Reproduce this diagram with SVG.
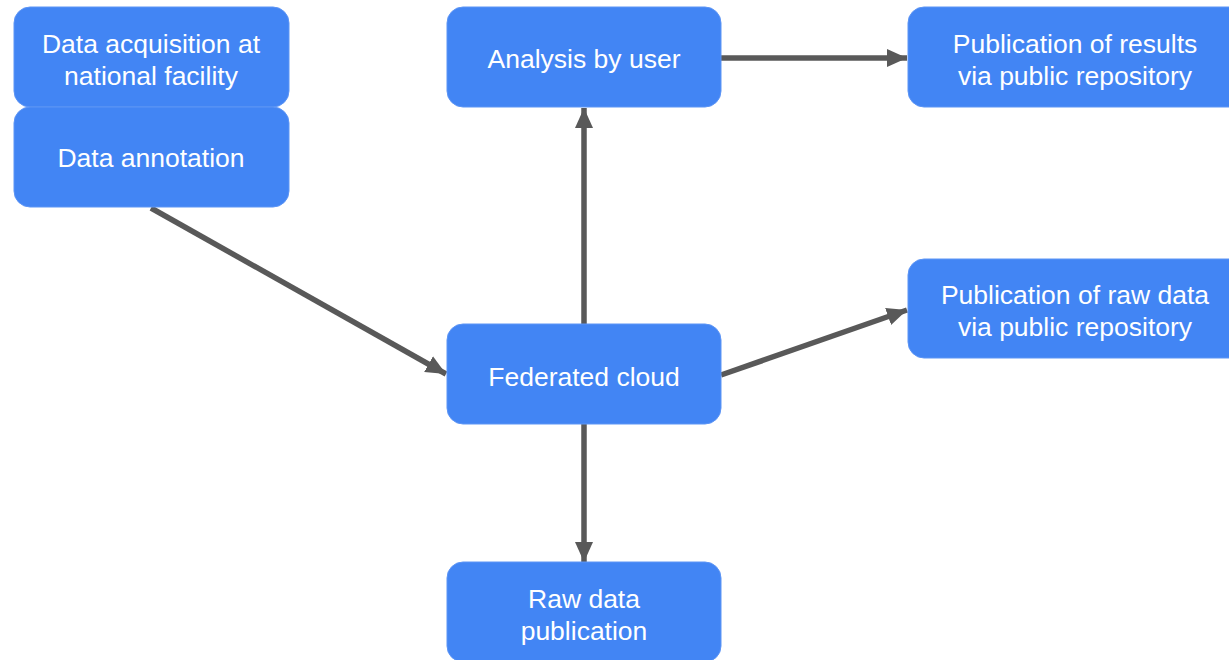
<svg xmlns="http://www.w3.org/2000/svg" width="1229" height="660" viewBox="0 0 1229 660">
<style>
.box{fill:#4285f4;stroke:#5d95f5;stroke-width:1}
.t{font-family:"Liberation Sans",Arial,Helvetica,sans-serif;font-size:26.5px;fill:#ffffff;text-anchor:middle}
.c{stroke:#595959;stroke-width:5.5;fill:none;marker-end:url(#ah)}
</style>
<defs>
<marker id="ah" markerUnits="userSpaceOnUse" markerWidth="22" markerHeight="20" refX="20" refY="10" orient="auto">
<path d="M0,1 L20,10 L0,19 Z" fill="#595959"/>
</marker>
</defs>
<rect width="1229" height="660" fill="#ffffff"/>
<g id="connectors">
<line class="c" x1="151" y1="208" x2="446" y2="374"/>
<line class="c" x1="584" y1="324" x2="584" y2="108"/>
<line class="c" x1="721" y1="58" x2="907" y2="58"/>
<line class="c" x1="721" y1="375" x2="907" y2="310"/>
<line class="c" x1="584" y1="424" x2="584" y2="562"/>
</g>
<g id="acquisition">
<rect class="box" x="14" y="7" width="275" height="100" rx="16"/>
<text class="t" x="151" y="53">Data acquisition at</text>
<text class="t" x="151" y="85">national facility</text>
</g>
<g id="annotation">
<rect class="box" x="14" y="107" width="275" height="100" rx="16"/>
<text class="t" x="151" y="167">Data annotation</text>
</g>
<g id="analysis">
<rect class="box" x="447" y="7" width="274" height="100" rx="16"/>
<text class="t" x="584" y="68">Analysis by user</text>
</g>
<g id="pubresults">
<rect class="box" x="908" y="7" width="340" height="100" rx="16"/>
<text class="t" x="1075" y="53">Publication of results</text>
<text class="t" x="1075" y="85">via public repository</text>
</g>
<g id="pubraw">
<rect class="box" x="908" y="259" width="340" height="99" rx="16"/>
<text class="t" x="1075" y="304">Publication of raw data</text>
<text class="t" x="1075" y="336">via public repository</text>
</g>
<g id="cloud">
<rect class="box" x="447" y="324" width="274" height="100" rx="16"/>
<text class="t" x="584" y="386">Federated cloud</text>
</g>
<g id="rawpub">
<rect class="box" x="447" y="562" width="274" height="100" rx="16"/>
<text class="t" x="584" y="608">Raw data</text>
<text class="t" x="584" y="640">publication</text>
</g>
</svg>
